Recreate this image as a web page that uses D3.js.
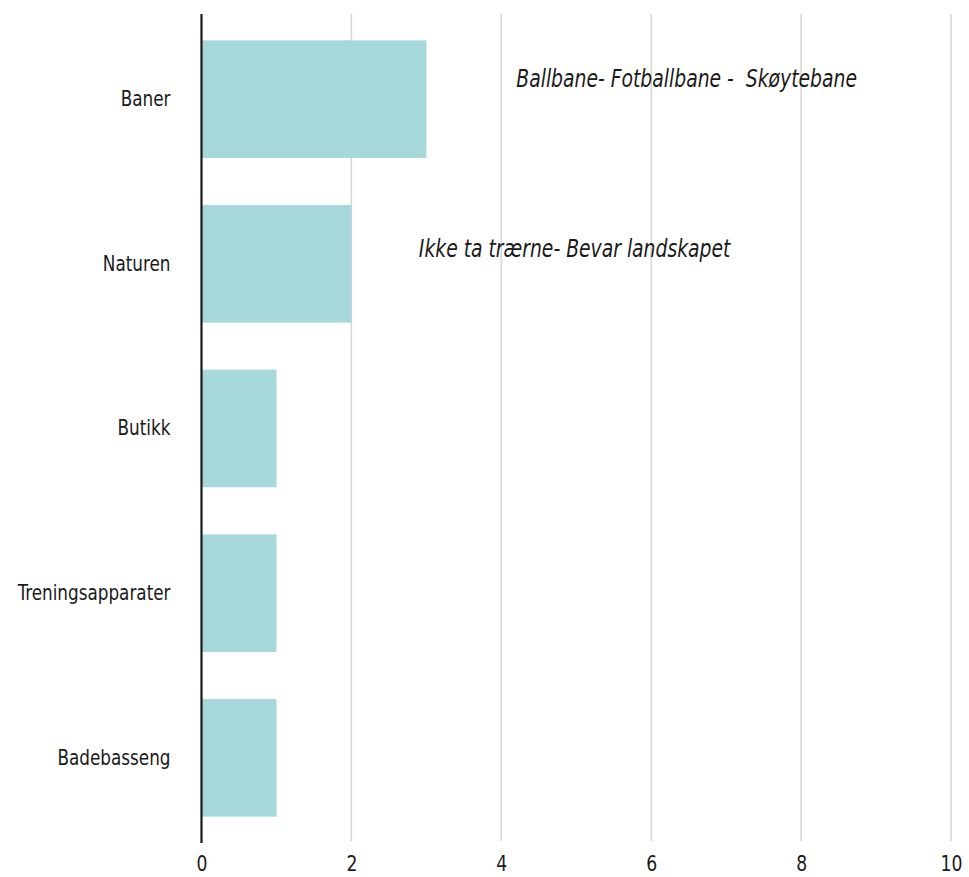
<!DOCTYPE html>
<html>
<head>
<meta charset="utf-8">
<script src="https://cdn.jsdelivr.net/npm/d3@7"></script>
<style>
  body { margin: 0; background: #fff; }
  text { font-family: "Liberation Sans Narrow", "DejaVu Sans Condensed", sans-serif; fill: #1a1a1a; }
</style>
</head>
<body>
<svg width="969" height="877"></svg>
<script>
var categories = ["Baner", "Naturen", "Butikk", "Treningsapparater", "Badebasseng"];
var counts = [3, 2, 1, 1, 1];
var tickValues = [0, 2, 4, 6, 8, 10];
var notes = ["Ballbane- Fotballbane -  Skøytebane", "Ikke ta trærne- Bevar landskapet", "", "", ""];
var noteAt = [4.2, 2.9, 0, 0, 0];

// plot edges (note: "top" is reserved on window)
var plotLeft = 201.5, plotRight = 951, plotTop = 14, plotBottom = 843;
var squeeze = 0.87; // fake a condensed face

var svg = d3.select("svg");

var xScale = d3.scaleLinear().domain([0, 10]).range([plotLeft, plotRight]);
var yScale = d3.scaleBand()
    .domain(categories)
    .range([plotTop, plotBottom])
    .paddingInner(0.286)
    .paddingOuter(0.16);

// vertical grid
svg.append("g")
    .selectAll("line")
    .data(tickValues.filter(function(d) { return d > 0; }))
    .enter()
        .append("line")
        .attr("x1", function(d) { return xScale(d); })
        .attr("x2", function(d) { return xScale(d); })
        .attr("y1", plotTop)
        .attr("y2", plotBottom - 2)
        .attr("stroke", "#d6d6d6")
        .attr("stroke-width", 1.5);

svg.append("g")
    .selectAll("rect")
    .data(categories)
    .enter()
        .append("rect")
        .attr("x", xScale(0))
        .attr("y", function(d) { return yScale(d); })
        .attr("width", function(d, i) { return xScale(counts[i]) - xScale(0); })
        .attr("height", yScale.bandwidth())
        .attr("fill", "#a6d8d9");

// x tick labels
var xAxis = d3.axisBottom(xScale).tickValues(tickValues).tickSize(0).tickPadding(12);
svg.append("g")
    .attr("transform", "translate(0," + plotBottom + ")")
    .call(xAxis)
    .call(function(g) { g.select(".domain").remove(); })
    .selectAll("text")
    .attr("font-family", null)
    .attr("transform", "scale(" + squeeze + ",1)")
    .style("font-size", "22px")
    .attr("fill", "#1a1a1a");

// category labels
var yAxis = d3.axisLeft(yScale).tickSize(0).tickPadding(31);
svg.append("g")
    .attr("transform", "translate(" + plotLeft + ",0)")
    .call(yAxis)
    .call(function(g) { g.select(".domain").remove(); })
    .selectAll("text")
    .attr("font-family", null)
    .attr("x", -31 / squeeze)
    .attr("transform", "scale(" + squeeze + ",1)")
    .style("font-size", "21.5px")
    .attr("fill", "#1a1a1a");

// zero line
svg.append("line")
    .attr("x1", xScale(0))
    .attr("x2", xScale(0))
    .attr("y1", plotTop)
    .attr("y2", plotBottom)
    .attr("stroke", "#1a1a1a")
    .attr("stroke-width", 2.2);

// notes
svg.append("g")
    .selectAll("text")
    .data(categories.filter(function(d, i) { return notes[i] != ""; }))
    .enter()
        .append("text")
        .attr("transform", "scale(" + squeeze + ",1)")
        .attr("x", function(d) { return xScale(noteAt[categories.indexOf(d)]) / squeeze; })
        .attr("y", function(d, i) { return yScale(d) + yScale.bandwidth() / 2 - (i == 0 ? 12 : 7); })
        .style("font-size", "24px")
        .style("font-style", "italic")
        .style("white-space", "pre")
        .text(function(d) { return notes[categories.indexOf(d)]; });
</script>
</body>
</html>
